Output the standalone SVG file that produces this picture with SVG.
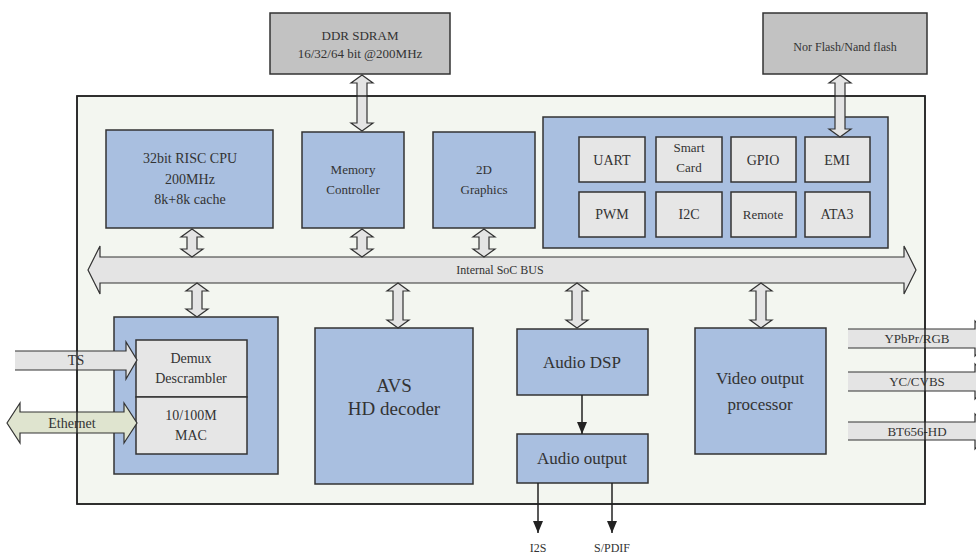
<svg xmlns="http://www.w3.org/2000/svg" width="976" height="555" viewBox="0 0 976 555">
<style>
text{font-family:"Liberation Serif","Times New Roman",serif;fill:#333;text-anchor:middle}
.blue{fill:#a9bfe0;stroke:#333;stroke-width:1.5}
.gray{fill:#c2c2c2;stroke:#333;stroke-width:1.5}
.lite{fill:#e6e6e6;stroke:#333;stroke-width:1.5}
.arr{fill:#e4e4e4;stroke:#333;stroke-width:1.2}
.s12{font-size:12px}.s13{font-size:13px}.s14{font-size:14px}.s16{font-size:17px}.s18{font-size:19px}
.ln{stroke:#222;stroke-width:1.5;fill:none}
</style>
<defs>
<marker id="ah" markerWidth="12" markerHeight="10" refX="12" refY="5" orient="auto" markerUnits="userSpaceOnUse" viewBox="0 0 12 10">
<path d="M0,0 L12,5 L0,10 Z" fill="#222"/>
</marker>
</defs>
<g id="soc"><rect x="77" y="96" width="848" height="408" fill="#f3f6f0" stroke="#222" stroke-width="1.5"/></g>
<g id="ddr"><rect class="gray" x="270" y="13" width="180" height="61"/><text class="s13" x="360" y="40">DDR SDRAM</text><text class="s13" x="360" y="58">16/32/64 bit @200MHz</text></g>
<g id="nor"><rect class="gray" x="763" y="13" width="164" height="61"/><text class="s12" x="845" y="51">Nor Flash/Nand flash</text></g>
<g id="cpu"><rect class="blue" x="106" y="130" width="167" height="98"/><text class="s14" x="190" y="163">32bit RISC CPU</text><text class="s14" x="190" y="184">200MHz</text><text class="s14" x="190" y="204">8k+8k cache</text></g>
<g id="memctl"><rect class="blue" x="302" y="132" width="102" height="96"/><text class="s13" x="353" y="174">Memory</text><text class="s13" x="353" y="194">Controller</text></g>
<g id="gfx"><rect class="blue" x="433" y="132" width="102" height="96"/><text class="s13" x="484" y="174">2D</text><text class="s13" x="484" y="194">Graphics</text></g>
<g id="periph"><rect class="blue" x="543" y="117" width="345" height="131"/>
<rect class="lite" x="579" y="137" width="66" height="45"/><text class="s14" x="612" y="165">UART</text>
<rect class="lite" x="656" y="137" width="66" height="45"/><text class="s13" x="689" y="152">Smart</text><text class="s13" x="689" y="172">Card</text>
<rect class="lite" x="731" y="137" width="65" height="45"/><text class="s14" x="763" y="165">GPIO</text>
<rect class="lite" x="805" y="137" width="65" height="45"/><text class="s14" x="837" y="165">EMI</text>
<rect class="lite" x="579" y="192" width="66" height="45"/><text class="s14" x="612" y="219">PWM</text>
<rect class="lite" x="656" y="192" width="66" height="45"/><text class="s14" x="689" y="219">I2C</text>
<rect class="lite" x="731" y="192" width="65" height="45"/><text class="s13" x="763" y="219">Remote</text>
<rect class="lite" x="805" y="192" width="65" height="45"/><text class="s14" x="837" y="219">ATA3</text>
</g>
<g id="bus"><path class="arr" d="M88,270 L100,246 L100,257 L904,257 L904,246 L916,270 L904,294 L904,283 L100,283 L100,294 Z"/><text class="s12" x="500" y="274">Internal SoC BUS</text></g>
<g id="demuxgrp"><rect class="blue" x="114" y="317" width="164" height="157"/>
<rect class="lite" x="136" y="340" width="111" height="57"/><text class="s14" x="191" y="363">Demux</text><text class="s14" x="191" y="383">Descrambler</text>
<rect class="lite" x="136" y="397" width="111" height="57"/><text class="s14" x="191" y="420">10/100M</text><text class="s14" x="191" y="440">MAC</text>
</g>
<g id="avs"><rect class="blue" x="315" y="328" width="158" height="156"/><text class="s18" x="394" y="392">AVS</text><text class="s18" x="394" y="415">HD decoder</text></g>
<g id="adsp"><rect class="blue" x="517" y="329" width="131" height="66"/><text class="s16" x="582" y="368">Audio DSP</text></g>
<g id="aout"><rect class="blue" x="517" y="434" width="131" height="49"/><text class="s16" x="582" y="464">Audio output</text></g>
<g id="vop"><rect class="blue" x="695" y="328" width="131" height="126"/><text class="s16" x="760" y="384">Video output</text><text class="s16" x="760" y="410">processor</text></g>
<g id="connectors">
<path class="arr" d="M362,75 L373,83 L367,83 L367,123 L373,123 L362,131 L351,123 L357,123 L357,83 L351,83 Z"/>
<path class="arr" d="M840,75 L851,83 L845,83 L845,129 L851,129 L840,137 L829,129 L835,129 L835,83 L829,83 Z"/>
<path class="arr" d="M192,229 L203,237 L197,237 L197,249 L203,249 L192,257 L181,249 L187,249 L187,237 L181,237 Z"/>
<path class="arr" d="M362,229 L373,237 L367,237 L367,249 L373,249 L362,257 L351,249 L357,249 L357,237 L351,237 Z"/>
<path class="arr" d="M484,229 L495,237 L489,237 L489,249 L495,249 L484,257 L473,249 L479,249 L479,237 L473,237 Z"/>
<path class="arr" d="M197,283 L208,291 L202,291 L202,309 L208,309 L197,317 L186,309 L192,309 L192,291 L186,291 Z"/>
<path class="arr" d="M398,283 L409,291 L403,291 L403,320 L409,320 L398,328 L387,320 L393,320 L393,291 L387,291 Z"/>
<path class="arr" d="M577,283 L588,291 L582,291 L582,320 L588,320 L577,328 L566,320 L572,320 L572,291 L566,291 Z"/>
<path class="arr" d="M761,283 L772,291 L766,291 L766,320 L772,320 L761,328 L750,320 L756,320 L756,291 L750,291 Z"/>
<path class="arr" d="M15,351 L126,351 L126,342 L137,360 L126,379 L126,370 L15,370"/>
<text class="s14" x="76" y="365">TS</text>
<path d="M7,423 L20,403 L20,412 L124,412 L124,403 L137,423 L124,443 L124,433 L20,433 L20,443 Z" fill="#dfe4cf" stroke="#333" stroke-width="1.2"/>
<text class="s14" x="72" y="428">Ethernet</text>
<path class="arr" d="M848,329 L975,329 L975,321 L992,338 L975,356 L975,348 L848,348"/>
<text class="s13" x="917" y="343">YPbPr/RGB</text>
<path class="arr" d="M848,372 L975,372 L975,364 L992,381 L975,399 L975,391 L848,391"/>
<text class="s13" x="917" y="386">YC/CVBS</text>
<path class="arr" d="M848,422 L975,422 L975,414 L992,431 L975,449 L975,440 L848,440"/>
<text class="s13" x="917" y="436">BT656-HD</text>
<line class="ln" x1="582" y1="395" x2="582" y2="434" marker-end="url(#ah)"/>
<line class="ln" x1="538" y1="483" x2="538" y2="533" marker-end="url(#ah)"/>
<line class="ln" x1="612" y1="483" x2="612" y2="533" marker-end="url(#ah)"/>
</g>
<rect x="77" y="96" width="848" height="408" fill="none" stroke="#222" stroke-width="1.5"/>
<text class="s12" x="538" y="552">I2S</text>
<text class="s12" x="612" y="552">S/PDIF</text>
</svg>
